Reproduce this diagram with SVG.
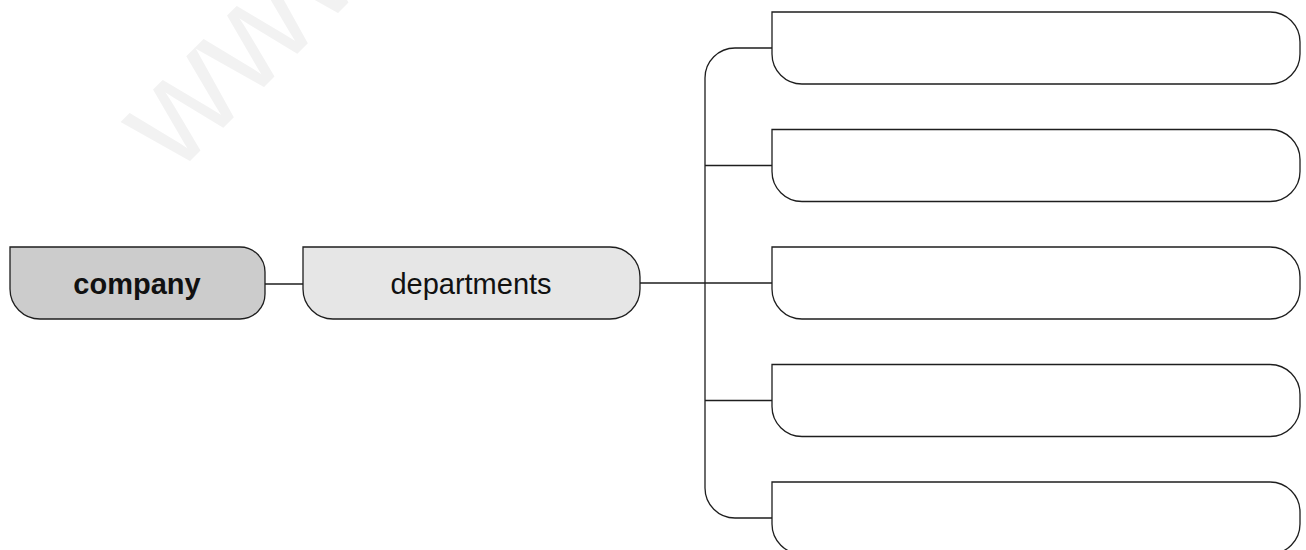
<svg xmlns="http://www.w3.org/2000/svg" width="1306" height="550" viewBox="0 0 1306 550">
  <style>
    .node { stroke: #1e1e1e; stroke-width: 1.3; }
    .root { fill: #cccccc; }
    .branch { fill: #e6e6e6; }
    .leaf { fill: #ffffff; }
    .label { font-family: "Liberation Sans", Arial, sans-serif; font-size: 29px; fill: #111111; text-anchor: middle; }
    .bold { font-weight: bold; }
    .wire { fill: none; stroke: #1e1e1e; stroke-width: 1.3; }
    .mark { font-family: "Liberation Sans", Arial, sans-serif; font-size: 145px; fill: #f2f2f2; }
  </style>

  <!-- background watermark -->
  <text class="mark" x="175" y="176" transform="rotate(-45 175 176)">www</text>

  <!-- connectors -->
  <g id="connectors">
    <path class="wire" d="M265,284 H303"/>
    <path class="wire" d="M640,283 H772"/>
    <path class="wire" d="M772,48 H735 A30,30 0 0 0 705,78 V488 A30,30 0 0 0 735,518 H772"/>
    <path class="wire" d="M705,165.5 H772"/>
    <path class="wire" d="M705,400.5 H772"/>
  </g>

  <!-- root node -->
  <g id="company">
    <path class="node root" d="M10,247 H240 A25,25 0 0 1 265,272 V294 A25,25 0 0 1 240,319 H40 A30,30 0 0 1 10,289 Z"/>
    <text class="label bold" x="137" y="294">company</text>
  </g>

  <!-- second level -->
  <g id="departments">
    <path class="node branch" d="M303,247 H610 A30,30 0 0 1 640,277 V289 A30,30 0 0 1 610,319 H333 A30,30 0 0 1 303,289 Z"/>
    <text class="label" x="471" y="294">departments</text>
  </g>

  <!-- empty department slots -->
  <g id="dept-1">
    <path class="node leaf" d="M772,12 H1270 A30,30 0 0 1 1300,42 V54 A30,30 0 0 1 1270,84 H802 A30,30 0 0 1 772,54 Z"/>
  </g>
  <g id="dept-2">
    <path class="node leaf" d="M772,129.5 H1270 A30,30 0 0 1 1300,159.5 V171.5 A30,30 0 0 1 1270,201.5 H802 A30,30 0 0 1 772,171.5 Z"/>
  </g>
  <g id="dept-3">
    <path class="node leaf" d="M772,247 H1270 A30,30 0 0 1 1300,277 V289 A30,30 0 0 1 1270,319 H802 A30,30 0 0 1 772,289 Z"/>
  </g>
  <g id="dept-4">
    <path class="node leaf" d="M772,364.5 H1270 A30,30 0 0 1 1300,394.5 V406.5 A30,30 0 0 1 1270,436.5 H802 A30,30 0 0 1 772,406.5 Z"/>
  </g>
  <g id="dept-5">
    <path class="node leaf" d="M772,482 H1270 A30,30 0 0 1 1300,512 V524 A30,30 0 0 1 1270,554 H802 A30,30 0 0 1 772,524 Z"/>
  </g>
</svg>
